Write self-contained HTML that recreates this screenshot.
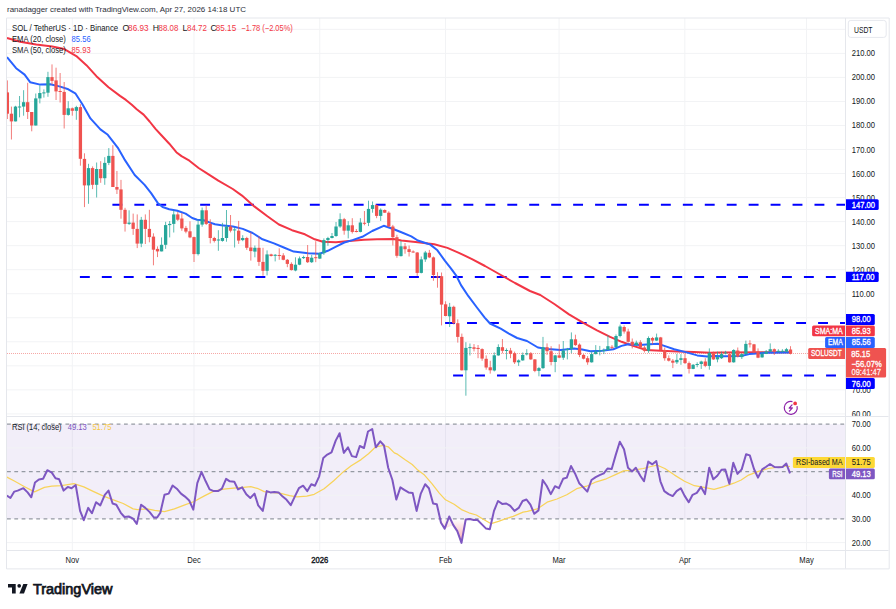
<!DOCTYPE html><html><head><meta charset="utf-8"><title>SOL/USDT chart</title><style>html,body{margin:0;padding:0;background:#fff;width:896px;height:609px;overflow:hidden}svg{position:absolute;left:0;top:0}text{font-family:"Liberation Sans",sans-serif}</style></head><body>
<svg width="896" height="609" viewBox="0 0 896 609">
<defs><clipPath id="mp"><rect x="6.5" y="18" width="839.5" height="398"/></clipPath><clipPath id="pa"><rect x="846" y="18" width="43" height="398"/></clipPath><clipPath id="rp"><rect x="6.5" y="416.9" width="839.5" height="133.5"/></clipPath><linearGradient id="os" x1="0" y1="0" x2="0" y2="1"><stop offset="0" stop-color="#f23645" stop-opacity="0"/><stop offset="1" stop-color="#f23645" stop-opacity="0.45"/></linearGradient></defs>
<text x="7" y="12.1" font-size="7.8" fill="#2a2e39" textLength="239" lengthAdjust="spacingAndGlyphs">ranadagger created with TradingView.com, Apr 27, 2026 14:18 UTC</text>
<line x1="6.5" y1="29.35" x2="846" y2="29.35" stroke="#f2f3f5" stroke-width="1"/>
<line x1="6.5" y1="53.39" x2="846" y2="53.39" stroke="#f2f3f5" stroke-width="1"/>
<line x1="6.5" y1="77.42" x2="846" y2="77.42" stroke="#f2f3f5" stroke-width="1"/>
<line x1="6.5" y1="101.45" x2="846" y2="101.45" stroke="#f2f3f5" stroke-width="1"/>
<line x1="6.5" y1="125.49" x2="846" y2="125.49" stroke="#f2f3f5" stroke-width="1"/>
<line x1="6.5" y1="149.52" x2="846" y2="149.52" stroke="#f2f3f5" stroke-width="1"/>
<line x1="6.5" y1="173.56" x2="846" y2="173.56" stroke="#f2f3f5" stroke-width="1"/>
<line x1="6.5" y1="197.59" x2="846" y2="197.59" stroke="#f2f3f5" stroke-width="1"/>
<line x1="6.5" y1="221.62" x2="846" y2="221.62" stroke="#f2f3f5" stroke-width="1"/>
<line x1="6.5" y1="245.66" x2="846" y2="245.66" stroke="#f2f3f5" stroke-width="1"/>
<line x1="6.5" y1="269.69" x2="846" y2="269.69" stroke="#f2f3f5" stroke-width="1"/>
<line x1="6.5" y1="293.73" x2="846" y2="293.73" stroke="#f2f3f5" stroke-width="1"/>
<line x1="6.5" y1="317.76" x2="846" y2="317.76" stroke="#f2f3f5" stroke-width="1"/>
<line x1="6.5" y1="341.79" x2="846" y2="341.79" stroke="#f2f3f5" stroke-width="1"/>
<line x1="6.5" y1="365.83" x2="846" y2="365.83" stroke="#f2f3f5" stroke-width="1"/>
<line x1="6.5" y1="389.86" x2="846" y2="389.86" stroke="#f2f3f5" stroke-width="1"/>
<line x1="6.5" y1="413.90" x2="846" y2="413.90" stroke="#f2f3f5" stroke-width="1"/>
<line x1="72.30" y1="18" x2="72.30" y2="550.4" stroke="#f2f3f5" stroke-width="1"/>
<line x1="193.99" y1="18" x2="193.99" y2="550.4" stroke="#f2f3f5" stroke-width="1"/>
<line x1="319.74" y1="18" x2="319.74" y2="550.4" stroke="#f2f3f5" stroke-width="1"/>
<line x1="445.49" y1="18" x2="445.49" y2="550.4" stroke="#f2f3f5" stroke-width="1"/>
<line x1="559.07" y1="18" x2="559.07" y2="550.4" stroke="#f2f3f5" stroke-width="1"/>
<line x1="684.82" y1="18" x2="684.82" y2="550.4" stroke="#f2f3f5" stroke-width="1"/>
<line x1="806.51" y1="18" x2="806.51" y2="550.4" stroke="#f2f3f5" stroke-width="1"/>
<rect x="6.5" y="424.20" width="839.5" height="94.72" fill="#7e57c2" fill-opacity="0.1"/>
<line x1="6.5" y1="447.88" x2="846" y2="447.88" stroke="#f2f3f5" stroke-width="1"/>
<line x1="6.5" y1="495.24" x2="846" y2="495.24" stroke="#f2f3f5" stroke-width="1"/>
<line x1="6.5" y1="542.60" x2="846" y2="542.60" stroke="#f2f3f5" stroke-width="1"/>
<line x1="7" y1="424.20" x2="846" y2="424.20" stroke="#959aa3" stroke-width="1.2" stroke-dasharray="3.8 3.51"/>
<line x1="7" y1="471.56" x2="846" y2="471.56" stroke="#959aa3" stroke-width="1.2" stroke-dasharray="3.8 3.51"/>
<line x1="7" y1="518.92" x2="846" y2="518.92" stroke="#959aa3" stroke-width="1.2" stroke-dasharray="3.8 3.51"/>
<line x1="112.4" y1="204.80" x2="846" y2="204.80" stroke="#0000ff" stroke-width="2" stroke-dasharray="9.9 12.04"/>
<line x1="79.9" y1="276.90" x2="846" y2="276.90" stroke="#0000ff" stroke-width="2" stroke-dasharray="9.9 12.04"/>
<line x1="445.1" y1="323.00" x2="846" y2="323.00" stroke="#0000ff" stroke-width="2" stroke-dasharray="9.9 12.04"/>
<line x1="453.1" y1="375.44" x2="846" y2="375.44" stroke="#0000ff" stroke-width="2" stroke-dasharray="9.9 12.04"/>
<line x1="7" y1="353.5" x2="845" y2="353.5" stroke="#ef5350" stroke-width="1" stroke-dasharray="1 1" opacity="0.5"/>
<g clip-path="url(#mp)">
<polyline points="7.0,38.0 20.1,41.7 36.2,44.5 52.2,46.5 64.3,49.1 76.3,56.1 86.4,65.2 96.4,76.2 108.5,87.3 120.0,95.9 125.9,99.9 131.8,104.8 136.7,109.2 143.6,114.6 149.6,121.5 155.5,128.9 161.4,135.3 169.3,143.7 176.3,152.2 181.5,156.1 189.4,160.7 198.6,168.0 207.8,173.9 218.3,180.7 232.8,189.0 242.0,195.6 254.3,206.4 267.4,216.3 278.9,224.5 292.0,230.2 304.9,234.3 314.7,239.3 322.9,241.7 336.0,242.2 349.2,240.9 364.0,239.8 377.1,239.3 393.5,238.9 401.4,240.5 417.8,242.2 434.3,244.3 447.4,247.9 458.9,252.8 472.0,259.1 485.0,266.0 500.0,274.5 515.0,283.0 530.0,291.0 540.3,295.0 554.3,304.0 569.0,314.4 583.8,323.2 597.0,330.3 610.1,336.9 621.6,341.8 633.1,345.9 646.3,350.0 661.0,350.8 677.5,351.6 693.9,352.1 710.3,352.8 720.0,352.5 790.0,352.2" fill="none" stroke="#f23645" stroke-width="2" stroke-linejoin="round"/>
<polyline points="7.0,57.1 16.1,68.2 24.6,74.6 30.1,82.2 40.2,84.6 50.2,84.2 60.3,86.6 68.3,89.3 75.3,93.3 82.4,104.3 90.4,118.4 100.4,129.4 107.8,134.8 117.7,147.6 124.3,159.1 134.7,175.0 144.6,184.9 151.1,193.1 157.7,202.9 162.6,207.0 169.2,209.2 177.4,210.8 185.6,213.6 192.2,218.0 197.1,219.7 203.7,220.2 210.2,222.6 215.0,224.3 221.4,225.3 232.9,226.5 242.8,228.9 252.6,233.0 262.5,239.3 274.0,243.4 283.8,247.5 293.7,251.6 308.1,253.2 319.6,253.7 327.8,250.8 336.0,246.7 344.3,242.5 352.5,240.1 362.3,236.8 372.2,231.0 383.7,225.8 393.2,229.0 401.4,232.3 411.3,236.4 417.8,240.5 427.7,243.8 430.0,244.4 437.4,250.3 444.8,260.7 450.7,268.1 456.6,276.2 461.0,285.1 468.4,296.2 477.3,308.0 484.7,317.6 490.0,323.5 500.7,328.7 508.9,333.6 517.1,338.0 527.0,341.0 537.9,347.5 547.7,348.9 560.8,350.0 574.0,348.4 582.2,349.5 590.4,351.2 601.9,350.8 613.4,349.2 621.6,345.9 628.2,344.3 639.7,345.1 649.6,344.3 657.8,343.8 664.3,345.9 674.2,349.2 685.7,352.1 697.2,355.4 707.0,356.6 715.2,356.0 724.6,356.3 741.0,356.0 749.3,354.1 765.7,352.8 790.3,352.5" fill="none" stroke="#2962ff" stroke-width="2" stroke-linejoin="round"/>
<line x1="7.37" y1="80.4" x2="7.37" y2="119.0" stroke="#ef5350" stroke-width="1" opacity="0.75"/>
<rect x="5.72" y="92.4" width="3.3" height="21.30" fill="#ef5350"/>
<line x1="11.43" y1="106.6" x2="11.43" y2="139.5" stroke="#ef5350" stroke-width="1" opacity="0.75"/>
<rect x="9.78" y="113.7" width="3.3" height="7.70" fill="#ef5350"/>
<line x1="15.49" y1="105.8" x2="15.49" y2="121.4" stroke="#26a69a" stroke-width="1" opacity="0.75"/>
<rect x="13.84" y="106.6" width="3.3" height="14.80" fill="#26a69a"/>
<line x1="19.54" y1="96.0" x2="19.54" y2="117.3" stroke="#26a69a" stroke-width="1" opacity="0.75"/>
<rect x="17.89" y="106.5" width="3.3" height="1.00" fill="#26a69a"/>
<line x1="23.60" y1="90.2" x2="23.60" y2="115.7" stroke="#26a69a" stroke-width="1" opacity="0.75"/>
<rect x="21.95" y="102.2" width="3.3" height="4.40" fill="#26a69a"/>
<line x1="27.66" y1="82.8" x2="27.66" y2="119.0" stroke="#ef5350" stroke-width="1" opacity="0.75"/>
<rect x="26.01" y="102.2" width="3.3" height="9.80" fill="#ef5350"/>
<line x1="31.72" y1="112.0" x2="31.72" y2="131.3" stroke="#ef5350" stroke-width="1" opacity="0.75"/>
<rect x="30.07" y="112.0" width="3.3" height="13.50" fill="#ef5350"/>
<line x1="35.77" y1="93.5" x2="35.77" y2="125.5" stroke="#26a69a" stroke-width="1" opacity="0.75"/>
<rect x="34.12" y="98.4" width="3.3" height="27.10" fill="#26a69a"/>
<line x1="39.83" y1="85.3" x2="39.83" y2="103.4" stroke="#26a69a" stroke-width="1" opacity="0.75"/>
<rect x="38.18" y="93.0" width="3.3" height="5.40" fill="#26a69a"/>
<line x1="43.89" y1="89.4" x2="43.89" y2="97.6" stroke="#26a69a" stroke-width="1" opacity="0.75"/>
<rect x="42.24" y="92.4" width="3.3" height="1.00" fill="#26a69a"/>
<line x1="47.95" y1="71.8" x2="47.95" y2="96.8" stroke="#26a69a" stroke-width="1" opacity="0.75"/>
<rect x="46.30" y="77.1" width="3.3" height="15.60" fill="#26a69a"/>
<line x1="52.00" y1="64.4" x2="52.00" y2="84.5" stroke="#ef5350" stroke-width="1" opacity="0.75"/>
<rect x="50.35" y="77.1" width="3.3" height="3.80" fill="#ef5350"/>
<line x1="56.06" y1="67.7" x2="56.06" y2="100.0" stroke="#ef5350" stroke-width="1" opacity="0.75"/>
<rect x="54.41" y="80.4" width="3.3" height="11.00" fill="#ef5350"/>
<line x1="60.12" y1="73.0" x2="60.12" y2="102.5" stroke="#ef5350" stroke-width="1" opacity="0.75"/>
<rect x="58.47" y="91.0" width="3.3" height="1.00" fill="#ef5350"/>
<line x1="64.18" y1="82.0" x2="64.18" y2="128.5" stroke="#ef5350" stroke-width="1" opacity="0.75"/>
<rect x="62.53" y="91.9" width="3.3" height="23.00" fill="#ef5350"/>
<line x1="68.24" y1="101.2" x2="68.24" y2="115.7" stroke="#26a69a" stroke-width="1" opacity="0.75"/>
<rect x="66.59" y="108.3" width="3.3" height="6.60" fill="#26a69a"/>
<line x1="72.29" y1="107.5" x2="72.29" y2="115.7" stroke="#ef5350" stroke-width="1" opacity="0.75"/>
<rect x="70.64" y="108.3" width="3.3" height="2.50" fill="#ef5350"/>
<line x1="76.35" y1="105.8" x2="76.35" y2="119.8" stroke="#26a69a" stroke-width="1" opacity="0.75"/>
<rect x="74.70" y="107.1" width="3.3" height="3.70" fill="#26a69a"/>
<line x1="80.41" y1="104.2" x2="80.41" y2="165.7" stroke="#ef5350" stroke-width="1" opacity="0.75"/>
<rect x="78.76" y="107.1" width="3.3" height="51.70" fill="#ef5350"/>
<line x1="84.47" y1="153.3" x2="84.47" y2="207.1" stroke="#ef5350" stroke-width="1" opacity="0.75"/>
<rect x="82.82" y="158.9" width="3.3" height="26.50" fill="#ef5350"/>
<line x1="88.52" y1="163.8" x2="88.52" y2="203.8" stroke="#26a69a" stroke-width="1" opacity="0.75"/>
<rect x="86.87" y="168.1" width="3.3" height="17.30" fill="#26a69a"/>
<line x1="92.58" y1="166.4" x2="92.58" y2="189.1" stroke="#ef5350" stroke-width="1" opacity="0.75"/>
<rect x="90.93" y="168.1" width="3.3" height="16.70" fill="#ef5350"/>
<line x1="96.64" y1="162.5" x2="96.64" y2="197.5" stroke="#26a69a" stroke-width="1" opacity="0.75"/>
<rect x="94.99" y="169.0" width="3.3" height="15.80" fill="#26a69a"/>
<line x1="100.70" y1="161.2" x2="100.70" y2="182.8" stroke="#ef5350" stroke-width="1" opacity="0.75"/>
<rect x="99.05" y="169.0" width="3.3" height="9.20" fill="#ef5350"/>
<line x1="104.75" y1="157.2" x2="104.75" y2="184.8" stroke="#26a69a" stroke-width="1" opacity="0.75"/>
<rect x="103.10" y="162.9" width="3.3" height="15.30" fill="#26a69a"/>
<line x1="108.81" y1="148.1" x2="108.81" y2="165.1" stroke="#26a69a" stroke-width="1" opacity="0.75"/>
<rect x="107.16" y="155.9" width="3.3" height="7.00" fill="#26a69a"/>
<line x1="112.87" y1="145.2" x2="112.87" y2="187.0" stroke="#ef5350" stroke-width="1" opacity="0.75"/>
<rect x="111.22" y="155.9" width="3.3" height="31.10" fill="#ef5350"/>
<line x1="116.93" y1="171.0" x2="116.93" y2="194.0" stroke="#ef5350" stroke-width="1" opacity="0.75"/>
<rect x="115.28" y="187.0" width="3.3" height="2.60" fill="#ef5350"/>
<line x1="120.99" y1="179.9" x2="120.99" y2="218.7" stroke="#ef5350" stroke-width="1" opacity="0.75"/>
<rect x="119.34" y="189.4" width="3.3" height="20.40" fill="#ef5350"/>
<line x1="125.04" y1="207.8" x2="125.04" y2="231.6" stroke="#ef5350" stroke-width="1" opacity="0.75"/>
<rect x="123.39" y="209.8" width="3.3" height="14.10" fill="#ef5350"/>
<line x1="129.10" y1="210.3" x2="129.10" y2="225.0" stroke="#26a69a" stroke-width="1" opacity="0.75"/>
<rect x="127.45" y="222.6" width="3.3" height="1.30" fill="#26a69a"/>
<line x1="133.16" y1="213.6" x2="133.16" y2="234.9" stroke="#ef5350" stroke-width="1" opacity="0.75"/>
<rect x="131.51" y="222.6" width="3.3" height="6.30" fill="#ef5350"/>
<line x1="137.22" y1="214.4" x2="137.22" y2="248.1" stroke="#ef5350" stroke-width="1" opacity="0.75"/>
<rect x="135.57" y="228.9" width="3.3" height="14.70" fill="#ef5350"/>
<line x1="141.27" y1="216.9" x2="141.27" y2="247.2" stroke="#26a69a" stroke-width="1" opacity="0.75"/>
<rect x="139.62" y="219.8" width="3.3" height="23.80" fill="#26a69a"/>
<line x1="145.33" y1="214.4" x2="145.33" y2="244.0" stroke="#ef5350" stroke-width="1" opacity="0.75"/>
<rect x="143.68" y="219.8" width="3.3" height="9.10" fill="#ef5350"/>
<line x1="149.39" y1="209.8" x2="149.39" y2="242.3" stroke="#ef5350" stroke-width="1" opacity="0.75"/>
<rect x="147.74" y="228.9" width="3.3" height="8.20" fill="#ef5350"/>
<line x1="153.45" y1="233.3" x2="153.45" y2="265.3" stroke="#ef5350" stroke-width="1" opacity="0.75"/>
<rect x="151.80" y="236.6" width="3.3" height="13.10" fill="#ef5350"/>
<line x1="157.50" y1="246.4" x2="157.50" y2="257.1" stroke="#ef5350" stroke-width="1" opacity="0.75"/>
<rect x="155.85" y="248.9" width="3.3" height="2.50" fill="#ef5350"/>
<line x1="161.56" y1="237.4" x2="161.56" y2="251.4" stroke="#26a69a" stroke-width="1" opacity="0.75"/>
<rect x="159.91" y="244.8" width="3.3" height="6.60" fill="#26a69a"/>
<line x1="165.62" y1="221.8" x2="165.62" y2="248.9" stroke="#26a69a" stroke-width="1" opacity="0.75"/>
<rect x="163.97" y="225.1" width="3.3" height="19.70" fill="#26a69a"/>
<line x1="169.68" y1="221.0" x2="169.68" y2="237.4" stroke="#26a69a" stroke-width="1" opacity="0.75"/>
<rect x="168.03" y="223.9" width="3.3" height="1.20" fill="#26a69a"/>
<line x1="173.74" y1="210.3" x2="173.74" y2="232.5" stroke="#26a69a" stroke-width="1" opacity="0.75"/>
<rect x="172.09" y="214.4" width="3.3" height="9.50" fill="#26a69a"/>
<line x1="177.79" y1="212.0" x2="177.79" y2="221.0" stroke="#ef5350" stroke-width="1" opacity="0.75"/>
<rect x="176.14" y="214.4" width="3.3" height="5.30" fill="#ef5350"/>
<line x1="181.85" y1="213.1" x2="181.85" y2="230.8" stroke="#ef5350" stroke-width="1" opacity="0.75"/>
<rect x="180.20" y="218.5" width="3.3" height="9.90" fill="#ef5350"/>
<line x1="185.91" y1="225.9" x2="185.91" y2="233.3" stroke="#ef5350" stroke-width="1" opacity="0.75"/>
<rect x="184.26" y="227.9" width="3.3" height="3.70" fill="#ef5350"/>
<line x1="189.97" y1="221.3" x2="189.97" y2="238.2" stroke="#ef5350" stroke-width="1" opacity="0.75"/>
<rect x="188.32" y="231.3" width="3.3" height="6.10" fill="#ef5350"/>
<line x1="194.02" y1="236.6" x2="194.02" y2="262.0" stroke="#ef5350" stroke-width="1" opacity="0.75"/>
<rect x="192.37" y="237.1" width="3.3" height="17.00" fill="#ef5350"/>
<line x1="198.08" y1="219.3" x2="198.08" y2="255.5" stroke="#26a69a" stroke-width="1" opacity="0.75"/>
<rect x="196.43" y="224.6" width="3.3" height="29.50" fill="#26a69a"/>
<line x1="202.14" y1="207.5" x2="202.14" y2="226.7" stroke="#26a69a" stroke-width="1" opacity="0.75"/>
<rect x="200.49" y="210.3" width="3.3" height="14.30" fill="#26a69a"/>
<line x1="206.20" y1="205.4" x2="206.20" y2="225.0" stroke="#ef5350" stroke-width="1" opacity="0.75"/>
<rect x="204.55" y="210.3" width="3.3" height="13.60" fill="#ef5350"/>
<line x1="210.25" y1="219.3" x2="210.25" y2="243.4" stroke="#ef5350" stroke-width="1" opacity="0.75"/>
<rect x="208.60" y="223.9" width="3.3" height="14.10" fill="#ef5350"/>
<line x1="214.31" y1="236.8" x2="214.31" y2="242.5" stroke="#ef5350" stroke-width="1" opacity="0.75"/>
<rect x="212.66" y="238.0" width="3.3" height="2.90" fill="#ef5350"/>
<line x1="218.37" y1="230.2" x2="218.37" y2="250.8" stroke="#26a69a" stroke-width="1" opacity="0.75"/>
<rect x="216.72" y="239.5" width="3.3" height="1.00" fill="#26a69a"/>
<line x1="222.43" y1="222.8" x2="222.43" y2="241.7" stroke="#26a69a" stroke-width="1" opacity="0.75"/>
<rect x="220.78" y="238.0" width="3.3" height="2.90" fill="#26a69a"/>
<line x1="226.49" y1="210.0" x2="226.49" y2="241.7" stroke="#26a69a" stroke-width="1" opacity="0.75"/>
<rect x="224.84" y="226.5" width="3.3" height="11.50" fill="#26a69a"/>
<line x1="230.54" y1="215.0" x2="230.54" y2="232.4" stroke="#ef5350" stroke-width="1" opacity="0.75"/>
<rect x="228.89" y="226.5" width="3.3" height="4.20" fill="#ef5350"/>
<line x1="234.60" y1="227.4" x2="234.60" y2="247.5" stroke="#26a69a" stroke-width="1" opacity="0.75"/>
<rect x="232.95" y="229.4" width="3.3" height="1.00" fill="#26a69a"/>
<line x1="238.66" y1="220.9" x2="238.66" y2="243.9" stroke="#ef5350" stroke-width="1" opacity="0.75"/>
<rect x="237.01" y="230.7" width="3.3" height="9.90" fill="#ef5350"/>
<line x1="242.72" y1="235.2" x2="242.72" y2="241.2" stroke="#26a69a" stroke-width="1" opacity="0.75"/>
<rect x="241.07" y="238.0" width="3.3" height="2.10" fill="#26a69a"/>
<line x1="246.77" y1="236.8" x2="246.77" y2="249.9" stroke="#ef5350" stroke-width="1" opacity="0.75"/>
<rect x="245.12" y="238.0" width="3.3" height="9.80" fill="#ef5350"/>
<line x1="250.83" y1="232.4" x2="250.83" y2="260.6" stroke="#ef5350" stroke-width="1" opacity="0.75"/>
<rect x="249.18" y="247.5" width="3.3" height="3.60" fill="#ef5350"/>
<line x1="254.89" y1="245.5" x2="254.89" y2="257.3" stroke="#26a69a" stroke-width="1" opacity="0.75"/>
<rect x="253.24" y="247.8" width="3.3" height="3.80" fill="#26a69a"/>
<line x1="258.95" y1="236.3" x2="258.95" y2="265.9" stroke="#ef5350" stroke-width="1" opacity="0.75"/>
<rect x="257.30" y="247.8" width="3.3" height="14.10" fill="#ef5350"/>
<line x1="263.01" y1="247.8" x2="263.01" y2="275.7" stroke="#ef5350" stroke-width="1" opacity="0.75"/>
<rect x="261.36" y="261.9" width="3.3" height="8.90" fill="#ef5350"/>
<line x1="267.06" y1="250.4" x2="267.06" y2="275.4" stroke="#26a69a" stroke-width="1" opacity="0.75"/>
<rect x="265.41" y="254.4" width="3.3" height="16.40" fill="#26a69a"/>
<line x1="271.12" y1="253.7" x2="271.12" y2="256.5" stroke="#ef5350" stroke-width="1" opacity="0.75"/>
<rect x="269.47" y="254.4" width="3.3" height="1.60" fill="#ef5350"/>
<line x1="275.18" y1="254.0" x2="275.18" y2="261.4" stroke="#26a69a" stroke-width="1" opacity="0.75"/>
<rect x="273.53" y="254.8" width="3.3" height="1.00" fill="#26a69a"/>
<line x1="279.24" y1="248.3" x2="279.24" y2="259.8" stroke="#ef5350" stroke-width="1" opacity="0.75"/>
<rect x="277.59" y="255.0" width="3.3" height="1.00" fill="#ef5350"/>
<line x1="283.29" y1="253.2" x2="283.29" y2="260.3" stroke="#ef5350" stroke-width="1" opacity="0.75"/>
<rect x="281.64" y="255.4" width="3.3" height="4.40" fill="#ef5350"/>
<line x1="287.35" y1="259.0" x2="287.35" y2="267.2" stroke="#ef5350" stroke-width="1" opacity="0.75"/>
<rect x="285.70" y="259.8" width="3.3" height="4.10" fill="#ef5350"/>
<line x1="291.41" y1="262.3" x2="291.41" y2="270.5" stroke="#ef5350" stroke-width="1" opacity="0.75"/>
<rect x="289.76" y="263.9" width="3.3" height="6.20" fill="#ef5350"/>
<line x1="295.47" y1="257.3" x2="295.47" y2="271.3" stroke="#26a69a" stroke-width="1" opacity="0.75"/>
<rect x="293.82" y="264.7" width="3.3" height="5.80" fill="#26a69a"/>
<line x1="299.52" y1="256.5" x2="299.52" y2="265.2" stroke="#26a69a" stroke-width="1" opacity="0.75"/>
<rect x="297.87" y="258.4" width="3.3" height="6.30" fill="#26a69a"/>
<line x1="303.58" y1="255.7" x2="303.58" y2="259.0" stroke="#26a69a" stroke-width="1" opacity="0.75"/>
<rect x="301.93" y="257.0" width="3.3" height="1.10" fill="#26a69a"/>
<line x1="307.64" y1="245.0" x2="307.64" y2="263.0" stroke="#ef5350" stroke-width="1" opacity="0.75"/>
<rect x="305.99" y="257.0" width="3.3" height="5.20" fill="#ef5350"/>
<line x1="311.70" y1="254.9" x2="311.70" y2="263.0" stroke="#26a69a" stroke-width="1" opacity="0.75"/>
<rect x="310.05" y="257.7" width="3.3" height="4.50" fill="#26a69a"/>
<line x1="315.76" y1="241.2" x2="315.76" y2="262.2" stroke="#ef5350" stroke-width="1" opacity="0.75"/>
<rect x="314.11" y="257.2" width="3.3" height="1.00" fill="#ef5350"/>
<line x1="319.81" y1="252.4" x2="319.81" y2="259.0" stroke="#26a69a" stroke-width="1" opacity="0.75"/>
<rect x="318.16" y="253.2" width="3.3" height="5.40" fill="#26a69a"/>
<line x1="323.87" y1="238.4" x2="323.87" y2="254.9" stroke="#26a69a" stroke-width="1" opacity="0.75"/>
<rect x="322.22" y="240.1" width="3.3" height="13.10" fill="#26a69a"/>
<line x1="327.93" y1="236.8" x2="327.93" y2="245.8" stroke="#26a69a" stroke-width="1" opacity="0.75"/>
<rect x="326.28" y="238.0" width="3.3" height="2.10" fill="#26a69a"/>
<line x1="331.99" y1="233.0" x2="331.99" y2="238.4" stroke="#26a69a" stroke-width="1" opacity="0.75"/>
<rect x="330.34" y="236.0" width="3.3" height="2.00" fill="#26a69a"/>
<line x1="336.04" y1="222.0" x2="336.04" y2="236.8" stroke="#26a69a" stroke-width="1" opacity="0.75"/>
<rect x="334.39" y="226.5" width="3.3" height="9.50" fill="#26a69a"/>
<line x1="340.10" y1="213.3" x2="340.10" y2="227.8" stroke="#26a69a" stroke-width="1" opacity="0.75"/>
<rect x="338.45" y="219.2" width="3.3" height="7.30" fill="#26a69a"/>
<line x1="344.16" y1="217.9" x2="344.16" y2="234.7" stroke="#ef5350" stroke-width="1" opacity="0.75"/>
<rect x="342.51" y="219.2" width="3.3" height="11.50" fill="#ef5350"/>
<line x1="348.22" y1="221.2" x2="348.22" y2="238.4" stroke="#26a69a" stroke-width="1" opacity="0.75"/>
<rect x="346.57" y="225.3" width="3.3" height="5.40" fill="#26a69a"/>
<line x1="352.27" y1="218.2" x2="352.27" y2="233.5" stroke="#ef5350" stroke-width="1" opacity="0.75"/>
<rect x="350.62" y="225.3" width="3.3" height="6.60" fill="#ef5350"/>
<line x1="356.33" y1="229.0" x2="356.33" y2="232.4" stroke="#ef5350" stroke-width="1" opacity="0.75"/>
<rect x="354.68" y="231.0" width="3.3" height="1.00" fill="#ef5350"/>
<line x1="360.39" y1="218.2" x2="360.39" y2="232.4" stroke="#26a69a" stroke-width="1" opacity="0.75"/>
<rect x="358.74" y="222.5" width="3.3" height="9.40" fill="#26a69a"/>
<line x1="364.45" y1="211.0" x2="364.45" y2="225.3" stroke="#ef5350" stroke-width="1" opacity="0.75"/>
<rect x="362.80" y="222.8" width="3.3" height="1.00" fill="#ef5350"/>
<line x1="368.51" y1="200.7" x2="368.51" y2="226.1" stroke="#26a69a" stroke-width="1" opacity="0.75"/>
<rect x="366.86" y="208.9" width="3.3" height="13.90" fill="#26a69a"/>
<line x1="372.56" y1="201.5" x2="372.56" y2="212.7" stroke="#26a69a" stroke-width="1" opacity="0.75"/>
<rect x="370.91" y="205.1" width="3.3" height="3.80" fill="#26a69a"/>
<line x1="376.62" y1="204.4" x2="376.62" y2="218.2" stroke="#ef5350" stroke-width="1" opacity="0.75"/>
<rect x="374.97" y="205.1" width="3.3" height="10.80" fill="#ef5350"/>
<line x1="380.68" y1="208.4" x2="380.68" y2="220.9" stroke="#26a69a" stroke-width="1" opacity="0.75"/>
<rect x="379.03" y="209.7" width="3.3" height="6.20" fill="#26a69a"/>
<line x1="384.74" y1="209.4" x2="384.74" y2="213.0" stroke="#ef5350" stroke-width="1" opacity="0.75"/>
<rect x="383.09" y="210.0" width="3.3" height="2.70" fill="#ef5350"/>
<line x1="388.79" y1="211.3" x2="388.79" y2="227.0" stroke="#ef5350" stroke-width="1" opacity="0.75"/>
<rect x="387.14" y="212.7" width="3.3" height="13.80" fill="#ef5350"/>
<line x1="392.85" y1="224.9" x2="392.85" y2="245.5" stroke="#ef5350" stroke-width="1" opacity="0.75"/>
<rect x="391.20" y="226.5" width="3.3" height="10.70" fill="#ef5350"/>
<line x1="396.91" y1="234.8" x2="396.91" y2="257.8" stroke="#ef5350" stroke-width="1" opacity="0.75"/>
<rect x="395.26" y="237.2" width="3.3" height="18.60" fill="#ef5350"/>
<line x1="400.97" y1="241.0" x2="400.97" y2="256.5" stroke="#26a69a" stroke-width="1" opacity="0.75"/>
<rect x="399.32" y="246.3" width="3.3" height="9.80" fill="#26a69a"/>
<line x1="405.02" y1="243.0" x2="405.02" y2="253.7" stroke="#ef5350" stroke-width="1" opacity="0.75"/>
<rect x="403.37" y="246.3" width="3.3" height="2.90" fill="#ef5350"/>
<line x1="409.08" y1="245.5" x2="409.08" y2="256.5" stroke="#ef5350" stroke-width="1" opacity="0.75"/>
<rect x="407.43" y="249.2" width="3.3" height="2.80" fill="#ef5350"/>
<line x1="413.14" y1="250.4" x2="413.14" y2="252.8" stroke="#ef5350" stroke-width="1" opacity="0.75"/>
<rect x="411.49" y="251.5" width="3.3" height="1.00" fill="#ef5350"/>
<line x1="417.20" y1="252.0" x2="417.20" y2="275.8" stroke="#ef5350" stroke-width="1" opacity="0.75"/>
<rect x="415.55" y="252.5" width="3.3" height="20.40" fill="#ef5350"/>
<line x1="421.26" y1="256.5" x2="421.26" y2="273.4" stroke="#26a69a" stroke-width="1" opacity="0.75"/>
<rect x="419.61" y="259.4" width="3.3" height="13.50" fill="#26a69a"/>
<line x1="425.31" y1="250.9" x2="425.31" y2="261.9" stroke="#26a69a" stroke-width="1" opacity="0.75"/>
<rect x="423.66" y="252.5" width="3.3" height="6.90" fill="#26a69a"/>
<line x1="429.37" y1="249.9" x2="429.37" y2="258.1" stroke="#ef5350" stroke-width="1" opacity="0.75"/>
<rect x="427.72" y="252.8" width="3.3" height="4.60" fill="#ef5350"/>
<line x1="433.43" y1="256.5" x2="433.43" y2="280.8" stroke="#ef5350" stroke-width="1" opacity="0.75"/>
<rect x="431.78" y="257.4" width="3.3" height="17.60" fill="#ef5350"/>
<line x1="437.49" y1="272.2" x2="437.49" y2="287.7" stroke="#ef5350" stroke-width="1" opacity="0.75"/>
<rect x="435.84" y="276.4" width="3.3" height="1.00" fill="#ef5350"/>
<line x1="441.54" y1="272.5" x2="441.54" y2="325.4" stroke="#ef5350" stroke-width="1" opacity="0.75"/>
<rect x="439.89" y="276.2" width="3.3" height="28.40" fill="#ef5350"/>
<line x1="445.60" y1="301.3" x2="445.60" y2="316.3" stroke="#ef5350" stroke-width="1" opacity="0.75"/>
<rect x="443.95" y="304.3" width="3.3" height="11.70" fill="#ef5350"/>
<line x1="449.66" y1="302.9" x2="449.66" y2="327.0" stroke="#26a69a" stroke-width="1" opacity="0.75"/>
<rect x="448.01" y="306.8" width="3.3" height="9.50" fill="#26a69a"/>
<line x1="453.72" y1="305.7" x2="453.72" y2="324.5" stroke="#ef5350" stroke-width="1" opacity="0.75"/>
<rect x="452.07" y="306.8" width="3.3" height="16.40" fill="#ef5350"/>
<line x1="457.77" y1="319.3" x2="457.77" y2="342.6" stroke="#ef5350" stroke-width="1" opacity="0.75"/>
<rect x="456.12" y="323.2" width="3.3" height="13.70" fill="#ef5350"/>
<line x1="461.83" y1="333.6" x2="461.83" y2="370.5" stroke="#ef5350" stroke-width="1" opacity="0.75"/>
<rect x="460.18" y="336.9" width="3.3" height="33.40" fill="#ef5350"/>
<line x1="465.89" y1="342.2" x2="465.89" y2="395.7" stroke="#26a69a" stroke-width="1" opacity="0.75"/>
<rect x="464.24" y="347.9" width="3.3" height="22.40" fill="#26a69a"/>
<line x1="469.95" y1="343.5" x2="469.95" y2="355.5" stroke="#26a69a" stroke-width="1" opacity="0.75"/>
<rect x="468.30" y="347.1" width="3.3" height="1.00" fill="#26a69a"/>
<line x1="474.01" y1="344.1" x2="474.01" y2="351.4" stroke="#ef5350" stroke-width="1" opacity="0.75"/>
<rect x="472.36" y="347.3" width="3.3" height="1.50" fill="#ef5350"/>
<line x1="478.06" y1="345.0" x2="478.06" y2="358.2" stroke="#ef5350" stroke-width="1" opacity="0.75"/>
<rect x="476.41" y="347.9" width="3.3" height="1.10" fill="#ef5350"/>
<line x1="482.12" y1="348.3" x2="482.12" y2="360.8" stroke="#ef5350" stroke-width="1" opacity="0.75"/>
<rect x="480.47" y="349.1" width="3.3" height="9.50" fill="#ef5350"/>
<line x1="486.18" y1="355.4" x2="486.18" y2="369.7" stroke="#ef5350" stroke-width="1" opacity="0.75"/>
<rect x="484.53" y="358.8" width="3.3" height="8.70" fill="#ef5350"/>
<line x1="490.24" y1="360.8" x2="490.24" y2="373.6" stroke="#ef5350" stroke-width="1" opacity="0.75"/>
<rect x="488.59" y="367.3" width="3.3" height="3.00" fill="#ef5350"/>
<line x1="494.29" y1="352.4" x2="494.29" y2="371.4" stroke="#26a69a" stroke-width="1" opacity="0.75"/>
<rect x="492.64" y="355.3" width="3.3" height="15.20" fill="#26a69a"/>
<line x1="498.35" y1="344.3" x2="498.35" y2="355.8" stroke="#26a69a" stroke-width="1" opacity="0.75"/>
<rect x="496.70" y="347.0" width="3.3" height="8.40" fill="#26a69a"/>
<line x1="502.41" y1="339.0" x2="502.41" y2="353.3" stroke="#ef5350" stroke-width="1" opacity="0.75"/>
<rect x="500.76" y="347.2" width="3.3" height="3.60" fill="#ef5350"/>
<line x1="506.47" y1="348.4" x2="506.47" y2="359.4" stroke="#26a69a" stroke-width="1" opacity="0.75"/>
<rect x="504.82" y="350.0" width="3.3" height="1.00" fill="#26a69a"/>
<line x1="510.52" y1="347.9" x2="510.52" y2="358.2" stroke="#ef5350" stroke-width="1" opacity="0.75"/>
<rect x="508.87" y="350.5" width="3.3" height="3.30" fill="#ef5350"/>
<line x1="514.58" y1="351.6" x2="514.58" y2="364.0" stroke="#ef5350" stroke-width="1" opacity="0.75"/>
<rect x="512.93" y="353.3" width="3.3" height="9.00" fill="#ef5350"/>
<line x1="518.64" y1="359.4" x2="518.64" y2="365.9" stroke="#26a69a" stroke-width="1" opacity="0.75"/>
<rect x="516.99" y="360.4" width="3.3" height="1.90" fill="#26a69a"/>
<line x1="522.70" y1="352.5" x2="522.70" y2="360.7" stroke="#26a69a" stroke-width="1" opacity="0.75"/>
<rect x="521.05" y="354.9" width="3.3" height="5.50" fill="#26a69a"/>
<line x1="526.76" y1="349.2" x2="526.76" y2="355.4" stroke="#26a69a" stroke-width="1" opacity="0.75"/>
<rect x="525.11" y="353.3" width="3.3" height="1.10" fill="#26a69a"/>
<line x1="530.81" y1="352.1" x2="530.81" y2="359.9" stroke="#ef5350" stroke-width="1" opacity="0.75"/>
<rect x="529.16" y="353.3" width="3.3" height="6.10" fill="#ef5350"/>
<line x1="534.87" y1="359.0" x2="534.87" y2="372.2" stroke="#ef5350" stroke-width="1" opacity="0.75"/>
<rect x="533.22" y="359.4" width="3.3" height="11.50" fill="#ef5350"/>
<line x1="538.93" y1="366.9" x2="538.93" y2="376.3" stroke="#26a69a" stroke-width="1" opacity="0.75"/>
<rect x="537.28" y="368.1" width="3.3" height="2.80" fill="#26a69a"/>
<line x1="542.99" y1="336.9" x2="542.99" y2="368.9" stroke="#26a69a" stroke-width="1" opacity="0.75"/>
<rect x="541.34" y="347.2" width="3.3" height="20.90" fill="#26a69a"/>
<line x1="547.04" y1="343.4" x2="547.04" y2="354.9" stroke="#ef5350" stroke-width="1" opacity="0.75"/>
<rect x="545.39" y="347.2" width="3.3" height="4.00" fill="#ef5350"/>
<line x1="551.10" y1="346.2" x2="551.10" y2="365.3" stroke="#ef5350" stroke-width="1" opacity="0.75"/>
<rect x="549.45" y="351.2" width="3.3" height="10.80" fill="#ef5350"/>
<line x1="555.16" y1="354.9" x2="555.16" y2="372.2" stroke="#26a69a" stroke-width="1" opacity="0.75"/>
<rect x="553.51" y="355.4" width="3.3" height="6.60" fill="#26a69a"/>
<line x1="559.22" y1="344.3" x2="559.22" y2="358.2" stroke="#ef5350" stroke-width="1" opacity="0.75"/>
<rect x="557.57" y="355.4" width="3.3" height="2.30" fill="#ef5350"/>
<line x1="563.27" y1="341.0" x2="563.27" y2="359.9" stroke="#26a69a" stroke-width="1" opacity="0.75"/>
<rect x="561.62" y="350.5" width="3.3" height="7.20" fill="#26a69a"/>
<line x1="567.33" y1="347.9" x2="567.33" y2="359.4" stroke="#26a69a" stroke-width="1" opacity="0.75"/>
<rect x="565.68" y="349.0" width="3.3" height="1.00" fill="#26a69a"/>
<line x1="571.39" y1="332.4" x2="571.39" y2="353.3" stroke="#26a69a" stroke-width="1" opacity="0.75"/>
<rect x="569.74" y="339.3" width="3.3" height="9.60" fill="#26a69a"/>
<line x1="575.45" y1="334.7" x2="575.45" y2="345.9" stroke="#ef5350" stroke-width="1" opacity="0.75"/>
<rect x="573.80" y="339.3" width="3.3" height="5.80" fill="#ef5350"/>
<line x1="579.51" y1="343.4" x2="579.51" y2="357.1" stroke="#ef5350" stroke-width="1" opacity="0.75"/>
<rect x="577.86" y="344.6" width="3.3" height="10.30" fill="#ef5350"/>
<line x1="583.56" y1="354.1" x2="583.56" y2="359.4" stroke="#ef5350" stroke-width="1" opacity="0.75"/>
<rect x="581.91" y="354.9" width="3.3" height="3.80" fill="#ef5350"/>
<line x1="587.62" y1="356.1" x2="587.62" y2="364.8" stroke="#ef5350" stroke-width="1" opacity="0.75"/>
<rect x="585.97" y="358.2" width="3.3" height="4.10" fill="#ef5350"/>
<line x1="591.68" y1="350.8" x2="591.68" y2="362.7" stroke="#26a69a" stroke-width="1" opacity="0.75"/>
<rect x="590.03" y="354.1" width="3.3" height="8.20" fill="#26a69a"/>
<line x1="595.74" y1="345.1" x2="595.74" y2="354.4" stroke="#26a69a" stroke-width="1" opacity="0.75"/>
<rect x="594.09" y="351.6" width="3.3" height="2.50" fill="#26a69a"/>
<line x1="599.79" y1="345.9" x2="599.79" y2="355.4" stroke="#26a69a" stroke-width="1" opacity="0.75"/>
<rect x="598.14" y="350.5" width="3.3" height="1.10" fill="#26a69a"/>
<line x1="603.85" y1="348.4" x2="603.85" y2="354.1" stroke="#26a69a" stroke-width="1" opacity="0.75"/>
<rect x="602.20" y="350.0" width="3.3" height="1.00" fill="#26a69a"/>
<line x1="607.91" y1="335.2" x2="607.91" y2="350.5" stroke="#26a69a" stroke-width="1" opacity="0.75"/>
<rect x="606.26" y="346.2" width="3.3" height="3.80" fill="#26a69a"/>
<line x1="611.97" y1="345.1" x2="611.97" y2="349.2" stroke="#ef5350" stroke-width="1" opacity="0.75"/>
<rect x="610.32" y="346.8" width="3.3" height="1.00" fill="#ef5350"/>
<line x1="616.02" y1="334.4" x2="616.02" y2="347.5" stroke="#26a69a" stroke-width="1" opacity="0.75"/>
<rect x="614.38" y="336.0" width="3.3" height="11.20" fill="#26a69a"/>
<line x1="620.08" y1="324.6" x2="620.08" y2="337.4" stroke="#26a69a" stroke-width="1" opacity="0.75"/>
<rect x="618.43" y="326.5" width="3.3" height="9.50" fill="#26a69a"/>
<line x1="624.14" y1="325.4" x2="624.14" y2="333.6" stroke="#ef5350" stroke-width="1" opacity="0.75"/>
<rect x="622.49" y="327.0" width="3.3" height="4.50" fill="#ef5350"/>
<line x1="628.20" y1="328.7" x2="628.20" y2="342.6" stroke="#ef5350" stroke-width="1" opacity="0.75"/>
<rect x="626.55" y="331.5" width="3.3" height="10.30" fill="#ef5350"/>
<line x1="632.26" y1="338.5" x2="632.26" y2="348.4" stroke="#ef5350" stroke-width="1" opacity="0.75"/>
<rect x="630.61" y="341.8" width="3.3" height="3.30" fill="#ef5350"/>
<line x1="636.31" y1="340.6" x2="636.31" y2="345.9" stroke="#26a69a" stroke-width="1" opacity="0.75"/>
<rect x="634.66" y="342.6" width="3.3" height="2.50" fill="#26a69a"/>
<line x1="640.37" y1="340.2" x2="640.37" y2="348.4" stroke="#ef5350" stroke-width="1" opacity="0.75"/>
<rect x="638.72" y="342.3" width="3.3" height="5.20" fill="#ef5350"/>
<line x1="644.43" y1="345.9" x2="644.43" y2="352.5" stroke="#ef5350" stroke-width="1" opacity="0.75"/>
<rect x="642.78" y="347.5" width="3.3" height="3.30" fill="#ef5350"/>
<line x1="648.49" y1="336.4" x2="648.49" y2="352.8" stroke="#26a69a" stroke-width="1" opacity="0.75"/>
<rect x="646.84" y="338.0" width="3.3" height="12.80" fill="#26a69a"/>
<line x1="652.54" y1="336.9" x2="652.54" y2="344.3" stroke="#ef5350" stroke-width="1" opacity="0.75"/>
<rect x="650.89" y="338.0" width="3.3" height="2.60" fill="#ef5350"/>
<line x1="656.60" y1="333.6" x2="656.60" y2="341.0" stroke="#26a69a" stroke-width="1" opacity="0.75"/>
<rect x="654.95" y="337.4" width="3.3" height="3.20" fill="#26a69a"/>
<line x1="660.66" y1="336.9" x2="660.66" y2="350.8" stroke="#ef5350" stroke-width="1" opacity="0.75"/>
<rect x="659.01" y="337.4" width="3.3" height="12.60" fill="#ef5350"/>
<line x1="664.72" y1="347.5" x2="664.72" y2="360.7" stroke="#ef5350" stroke-width="1" opacity="0.75"/>
<rect x="663.07" y="350.0" width="3.3" height="8.20" fill="#ef5350"/>
<line x1="668.78" y1="355.4" x2="668.78" y2="361.5" stroke="#ef5350" stroke-width="1" opacity="0.75"/>
<rect x="667.13" y="358.2" width="3.3" height="2.50" fill="#ef5350"/>
<line x1="672.83" y1="359.0" x2="672.83" y2="368.1" stroke="#ef5350" stroke-width="1" opacity="0.75"/>
<rect x="671.18" y="360.7" width="3.3" height="2.00" fill="#ef5350"/>
<line x1="676.89" y1="353.8" x2="676.89" y2="364.0" stroke="#26a69a" stroke-width="1" opacity="0.75"/>
<rect x="675.24" y="359.9" width="3.3" height="2.40" fill="#26a69a"/>
<line x1="680.95" y1="354.1" x2="680.95" y2="364.8" stroke="#26a69a" stroke-width="1" opacity="0.75"/>
<rect x="679.30" y="358.2" width="3.3" height="1.70" fill="#26a69a"/>
<line x1="685.01" y1="353.3" x2="685.01" y2="364.0" stroke="#ef5350" stroke-width="1" opacity="0.75"/>
<rect x="683.36" y="358.2" width="3.3" height="4.90" fill="#ef5350"/>
<line x1="689.06" y1="361.5" x2="689.06" y2="373.5" stroke="#ef5350" stroke-width="1" opacity="0.75"/>
<rect x="687.41" y="363.1" width="3.3" height="5.80" fill="#ef5350"/>
<line x1="693.12" y1="364.0" x2="693.12" y2="369.2" stroke="#26a69a" stroke-width="1" opacity="0.75"/>
<rect x="691.47" y="364.8" width="3.3" height="4.10" fill="#26a69a"/>
<line x1="697.18" y1="362.3" x2="697.18" y2="367.2" stroke="#26a69a" stroke-width="1" opacity="0.75"/>
<rect x="695.53" y="364.0" width="3.3" height="1.00" fill="#26a69a"/>
<line x1="701.24" y1="360.7" x2="701.24" y2="368.9" stroke="#26a69a" stroke-width="1" opacity="0.75"/>
<rect x="699.59" y="361.5" width="3.3" height="2.50" fill="#26a69a"/>
<line x1="705.29" y1="358.2" x2="705.29" y2="367.2" stroke="#ef5350" stroke-width="1" opacity="0.75"/>
<rect x="703.64" y="361.5" width="3.3" height="4.40" fill="#ef5350"/>
<line x1="709.35" y1="348.4" x2="709.35" y2="369.7" stroke="#26a69a" stroke-width="1" opacity="0.75"/>
<rect x="707.70" y="352.8" width="3.3" height="13.10" fill="#26a69a"/>
<line x1="713.41" y1="351.6" x2="713.41" y2="359.9" stroke="#ef5350" stroke-width="1" opacity="0.75"/>
<rect x="711.76" y="353.3" width="3.3" height="6.10" fill="#ef5350"/>
<line x1="717.47" y1="351.6" x2="717.47" y2="362.3" stroke="#26a69a" stroke-width="1" opacity="0.75"/>
<rect x="715.82" y="357.1" width="3.3" height="2.30" fill="#26a69a"/>
<line x1="721.53" y1="351.6" x2="721.53" y2="359.0" stroke="#26a69a" stroke-width="1" opacity="0.75"/>
<rect x="719.88" y="354.1" width="3.3" height="4.10" fill="#26a69a"/>
<line x1="725.58" y1="350.8" x2="725.58" y2="354.4" stroke="#26a69a" stroke-width="1" opacity="0.75"/>
<rect x="723.93" y="352.5" width="3.3" height="1.00" fill="#26a69a"/>
<line x1="729.64" y1="353.3" x2="729.64" y2="362.7" stroke="#ef5350" stroke-width="1" opacity="0.75"/>
<rect x="727.99" y="354.1" width="3.3" height="8.20" fill="#ef5350"/>
<line x1="733.70" y1="349.2" x2="733.70" y2="362.7" stroke="#26a69a" stroke-width="1" opacity="0.75"/>
<rect x="732.05" y="350.0" width="3.3" height="12.30" fill="#26a69a"/>
<line x1="737.76" y1="347.5" x2="737.76" y2="357.4" stroke="#ef5350" stroke-width="1" opacity="0.75"/>
<rect x="736.11" y="350.5" width="3.3" height="6.10" fill="#ef5350"/>
<line x1="741.81" y1="353.3" x2="741.81" y2="359.0" stroke="#26a69a" stroke-width="1" opacity="0.75"/>
<rect x="740.16" y="354.1" width="3.3" height="3.00" fill="#26a69a"/>
<line x1="745.87" y1="340.6" x2="745.87" y2="354.9" stroke="#26a69a" stroke-width="1" opacity="0.75"/>
<rect x="744.22" y="343.9" width="3.3" height="10.20" fill="#26a69a"/>
<line x1="749.93" y1="340.2" x2="749.93" y2="347.5" stroke="#ef5350" stroke-width="1" opacity="0.75"/>
<rect x="748.28" y="343.4" width="3.3" height="1.00" fill="#ef5350"/>
<line x1="753.99" y1="343.9" x2="753.99" y2="353.3" stroke="#ef5350" stroke-width="1" opacity="0.75"/>
<rect x="752.34" y="344.3" width="3.3" height="8.20" fill="#ef5350"/>
<line x1="758.04" y1="348.4" x2="758.04" y2="358.2" stroke="#ef5350" stroke-width="1" opacity="0.75"/>
<rect x="756.39" y="351.6" width="3.3" height="6.10" fill="#ef5350"/>
<line x1="762.10" y1="351.6" x2="762.10" y2="357.7" stroke="#26a69a" stroke-width="1" opacity="0.75"/>
<rect x="760.45" y="353.8" width="3.3" height="3.60" fill="#26a69a"/>
<line x1="766.16" y1="350.0" x2="766.16" y2="354.1" stroke="#26a69a" stroke-width="1" opacity="0.75"/>
<rect x="764.51" y="351.6" width="3.3" height="2.20" fill="#26a69a"/>
<line x1="770.22" y1="343.4" x2="770.22" y2="352.1" stroke="#26a69a" stroke-width="1" opacity="0.75"/>
<rect x="768.57" y="349.2" width="3.3" height="2.40" fill="#26a69a"/>
<line x1="774.28" y1="348.4" x2="774.28" y2="354.9" stroke="#ef5350" stroke-width="1" opacity="0.75"/>
<rect x="772.63" y="349.2" width="3.3" height="2.40" fill="#ef5350"/>
<line x1="778.33" y1="349.2" x2="778.33" y2="352.5" stroke="#26a69a" stroke-width="1" opacity="0.75"/>
<rect x="776.68" y="350.8" width="3.3" height="1.00" fill="#26a69a"/>
<line x1="782.39" y1="349.2" x2="782.39" y2="352.5" stroke="#26a69a" stroke-width="1" opacity="0.75"/>
<rect x="780.74" y="350.8" width="3.3" height="1.00" fill="#26a69a"/>
<line x1="786.45" y1="347.9" x2="786.45" y2="352.5" stroke="#26a69a" stroke-width="1" opacity="0.75"/>
<rect x="784.80" y="349.2" width="3.3" height="2.40" fill="#26a69a"/>
<line x1="790.51" y1="346.2" x2="790.51" y2="354.4" stroke="#ef5350" stroke-width="1" opacity="0.75"/>
<rect x="788.86" y="349.5" width="3.3" height="4.30" fill="#ef5350"/>
</g>
<g clip-path="url(#rp)">
<polygon points="440,518.9 441.0,522.7 444.7,528.6 453.3,525.1 457.3,531.1 461.5,542.9 465.7,519.5 466.5,518.9" fill="url(#os)"/>
<polyline points="6.9,477.1 14.8,481.3 24.6,486.7 34.5,491.9 44.4,487.4 51.8,486.2 61.6,485.7 73.9,483.7 83.8,486.9 93.7,491.6 103.5,496.1 113.4,499.8 123.2,503.5 133.1,508.9 137.4,509.6 147.3,508.9 154.6,510.4 164.5,511.6 174.4,508.9 184.2,505.2 194.1,501.5 203.9,496.1 213.8,491.1 223.7,489.2 233.5,488.2 243.4,487.4 250.8,486.7 258.2,488.7 264.3,491.6 269.9,492.4 279.7,493.1 289.6,495.6 297.0,496.8 306.8,496.1 314.2,494.3 324.1,488.7 334.0,480.5 343.8,471.4 351.2,465.7 361.1,459.6 368.5,453.7 375.8,446.8 383.2,445.5 388.2,446.8 394.3,452.9 397.4,454.2 404.8,459.6 412.2,464.5 417.1,469.4 424.5,475.1 431.9,483.7 439.3,493.1 445.5,499.8 454.1,504.2 461.5,509.6 468.9,512.8 476.3,515.0 483.7,519.5 491.1,523.7 498.5,521.4 505.8,518.7 513.2,516.3 523.1,512.1 527.4,511.3 537.3,508.9 547.1,502.2 557.0,499.0 566.8,494.8 576.7,488.7 586.6,486.2 596.4,481.8 606.3,478.8 616.1,474.4 623.5,470.9 633.4,470.2 643.2,468.5 653.1,466.0 657.4,465.2 664.8,468.5 674.6,475.1 684.5,481.3 694.4,485.7 704.2,487.4 714.1,489.4 723.9,486.7 733.8,483.2 741.2,480.0 748.6,475.1 758.5,471.4 768.3,468.5 778.2,467.2 785.6,466.0 790.0,466.5" fill="none" stroke="#f8d35a" stroke-width="1.25" stroke-linejoin="round"/>
<polyline points="6.9,495.6 10.4,498.0 14.3,491.6 17.7,490.6 23.4,488.2 27.6,492.4 31.3,497.3 35.0,482.5 38.9,479.5 43.1,478.8 47.3,470.2 51.8,472.6 55.5,478.3 59.2,479.3 63.6,490.6 67.8,486.9 71.5,488.2 75.7,485.0 80.1,510.9 83.8,520.2 88.2,507.9 91.9,513.3 96.1,502.2 100.3,505.4 104.8,494.8 108.5,490.6 112.6,503.5 116.3,504.7 120.8,512.8 124.5,517.0 128.7,516.5 133.1,518.7 136.8,523.9 141.1,504.7 145.3,507.9 149.7,512.1 153.9,517.5 157.1,517.5 160.3,512.8 164.5,494.8 168.7,493.6 172.6,485.5 176.8,488.7 181.0,493.6 185.0,496.6 189.2,500.5 193.3,509.6 197.3,483.2 201.5,471.9 205.7,481.3 209.6,489.4 213.8,491.1 218.0,491.1 221.9,488.7 226.1,478.8 229.8,481.3 234.3,481.8 238.0,489.4 242.2,487.4 246.3,494.3 250.3,498.0 254.5,493.6 258.2,505.4 262.8,510.9 266.7,491.1 270.4,492.4 274.3,491.9 278.5,492.4 282.7,496.6 286.6,499.8 290.8,505.2 295.0,496.1 298.9,488.2 303.1,485.7 307.3,491.1 311.3,484.2 315.0,485.7 319.2,476.3 323.3,457.9 327.3,454.6 331.5,452.4 335.7,440.6 339.6,433.2 343.8,452.9 348.0,447.3 351.9,456.1 356.1,457.1 359.8,446.0 364.0,448.0 368.0,431.5 372.2,429.0 375.8,447.3 380.3,441.3 384.0,445.5 388.2,467.7 392.4,480.0 396.3,499.6 400.4,487.4 404.3,489.9 408.5,492.4 412.7,493.1 416.6,510.9 420.8,493.6 425.2,484.2 428.9,488.2 433.1,503.5 436.8,504.2 441.0,522.7 444.7,528.6 449.2,516.5 453.3,525.1 457.3,531.1 461.5,542.9 465.7,519.5 469.6,519.0 473.8,520.0 477.5,520.0 481.9,524.4 486.1,528.6 489.8,529.3 494.0,510.9 498.0,501.0 502.2,503.9 506.3,503.5 510.3,505.9 514.5,510.9 518.7,507.9 522.6,501.0 526.5,499.5 530.4,504.7 534.3,513.8 538.5,510.4 542.7,480.0 546.6,485.7 550.8,494.1 555.0,486.2 558.9,488.2 563.1,478.8 566.8,477.6 571.0,466.0 575.0,473.4 579.2,483.2 583.3,487.4 587.3,491.6 591.5,480.0 595.7,477.1 599.6,475.1 603.8,473.4 607.5,468.5 611.7,469.0 615.6,455.4 619.8,441.8 624.0,449.2 628.0,467.7 632.2,471.4 635.8,467.7 640.3,475.8 644.0,481.3 648.2,461.6 652.4,464.3 656.3,461.1 660.4,481.3 664.3,491.1 668.5,494.1 672.7,496.1 676.6,491.1 680.8,488.2 684.5,495.6 688.7,502.2 692.6,494.8 696.8,492.9 701.0,486.9 705.0,494.1 709.2,467.7 713.3,479.3 717.3,475.8 721.5,469.7 725.2,469.4 729.4,483.7 733.3,462.8 737.5,473.9 741.7,469.4 746.1,454.2 749.8,455.4 754.0,469.0 758.0,477.6 762.2,469.4 765.8,467.0 770.0,464.0 774.5,467.0 778.7,467.2 782.6,467.0 786.3,463.5 790.0,473.4" fill="none" stroke="#7e57c2" stroke-width="2" stroke-linejoin="round"/>
</g>
<path d="M6.5 18 V568.9 H889.2 V18 Z" fill="none" stroke="#e5e7ec" stroke-width="1"/>
<line x1="845.5" y1="18" x2="845.5" y2="568.5" stroke="#e5e7ec" stroke-width="1"/>
<line x1="6.5" y1="416.5" x2="888.5" y2="416.5" stroke="#e5e7ec" stroke-width="1"/>
<line x1="6.5" y1="550.5" x2="888.5" y2="550.5" stroke="#e5e7ec" stroke-width="1"/>
<text x="12" y="30.8" font-size="8.7" fill="#131722" textLength="106.2" lengthAdjust="spacingAndGlyphs">SOL / TetherUS · 1D · Binance</text>
<text x="122.6" y="30.8" font-size="8.7" fill="#131722">O</text>
<text x="128.1" y="30.8" font-size="8.7" fill="#f23645" textLength="20.5" lengthAdjust="spacingAndGlyphs">86.93</text>
<text x="152.8" y="30.8" font-size="8.7" fill="#131722">H</text>
<text x="158.6" y="30.8" font-size="8.7" fill="#f23645" textLength="19.7" lengthAdjust="spacingAndGlyphs">88.08</text>
<text x="182.4" y="30.8" font-size="8.7" fill="#131722">L</text>
<text x="187" y="30.8" font-size="8.7" fill="#f23645" textLength="19.9" lengthAdjust="spacingAndGlyphs">84.72</text>
<text x="210.4" y="30.8" font-size="8.7" fill="#131722">C</text>
<text x="215.8" y="30.8" font-size="8.7" fill="#f23645" textLength="20.4" lengthAdjust="spacingAndGlyphs">85.15</text>
<text x="241.3" y="30.8" font-size="8.7" fill="#f23645" textLength="51.5" lengthAdjust="spacingAndGlyphs">−1.78 (−2.05%)</text>
<text x="12" y="42.2" font-size="8.7" fill="#131722" textLength="53.9" lengthAdjust="spacingAndGlyphs">EMA (20, close)</text><text x="71.60" y="42.20" font-size="8.7" fill="#2962ff" textLength="19.12" lengthAdjust="spacingAndGlyphs">85.56</text>
<text x="12" y="53.3" font-size="8.7" fill="#131722" textLength="53.9" lengthAdjust="spacingAndGlyphs">SMA (50, close)</text><text x="71.60" y="53.30" font-size="8.7" fill="#f23645" textLength="19.12" lengthAdjust="spacingAndGlyphs">85.93</text>
<text x="12" y="430.3" font-size="8.7" fill="#131722" textLength="49.6" lengthAdjust="spacingAndGlyphs">RSI (14, close)</text><text x="67.80" y="430.30" font-size="8.7" fill="#7e57c2" textLength="19.02" lengthAdjust="spacingAndGlyphs">49.13</text><text x="92.40" y="430.30" font-size="8.7" fill="#f7c948" textLength="19.02" lengthAdjust="spacingAndGlyphs">51.75</text>
<g clip-path="url(#pa)">
<text x="851.70" y="56.39" font-size="8.6" fill="#131722" textLength="23.31" lengthAdjust="spacingAndGlyphs">210.00</text>
<text x="851.70" y="80.42" font-size="8.6" fill="#131722" textLength="23.31" lengthAdjust="spacingAndGlyphs">200.00</text>
<text x="851.70" y="104.45" font-size="8.6" fill="#131722" textLength="23.31" lengthAdjust="spacingAndGlyphs">190.00</text>
<text x="851.70" y="128.49" font-size="8.6" fill="#131722" textLength="23.31" lengthAdjust="spacingAndGlyphs">180.00</text>
<text x="851.70" y="152.52" font-size="8.6" fill="#131722" textLength="23.31" lengthAdjust="spacingAndGlyphs">170.00</text>
<text x="851.70" y="176.56" font-size="8.6" fill="#131722" textLength="23.31" lengthAdjust="spacingAndGlyphs">160.00</text>
<text x="851.70" y="200.59" font-size="8.6" fill="#131722" textLength="23.31" lengthAdjust="spacingAndGlyphs">150.00</text>
<text x="851.70" y="224.62" font-size="8.6" fill="#131722" textLength="23.31" lengthAdjust="spacingAndGlyphs">140.00</text>
<text x="851.70" y="248.66" font-size="8.6" fill="#131722" textLength="23.31" lengthAdjust="spacingAndGlyphs">130.00</text>
<text x="851.70" y="272.69" font-size="8.6" fill="#131722" textLength="23.31" lengthAdjust="spacingAndGlyphs">120.00</text>
<text x="851.70" y="296.73" font-size="8.6" fill="#131722" textLength="22.74" lengthAdjust="spacingAndGlyphs">110.00</text>
<text x="851.70" y="392.86" font-size="8.6" fill="#131722" textLength="19.07" lengthAdjust="spacingAndGlyphs">70.00</text>
<text x="851.70" y="416.90" font-size="8.6" fill="#131722" textLength="19.07" lengthAdjust="spacingAndGlyphs">60.00</text>
</g>
<rect x="848.3" y="20.4" width="37.9" height="17" rx="2.5" fill="#fff" stroke="#e6e8ee" stroke-width="1"/>
<text x="854" y="33.0" font-size="9" fill="#131722" textLength="18.5" lengthAdjust="spacingAndGlyphs">USDT</text>
<path d="M846 199.2 H877.2 Q878.7 199.2 878.7 200.7 V208.6 Q878.7 210.1 877.2 210.1 H846 Z" fill="#0000ff"/>
<text x="851.70" y="207.65" font-size="8.6" fill="#fff" textLength="23.31" lengthAdjust="spacingAndGlyphs" stroke="#fff" stroke-width="0.3">147.00</text>
<path d="M846 271.7 H877.2 Q878.7 271.7 878.7 273.2 V280.5 Q878.7 282.0 877.2 282.0 H846 Z" fill="#0000ff"/>
<text x="851.70" y="279.85" font-size="8.6" fill="#fff" textLength="22.74" lengthAdjust="spacingAndGlyphs" stroke="#fff" stroke-width="0.3">117.00</text>
<path d="M846 314.0 H873.3 Q874.8 314.0 874.8 315.5 V323.4 Q874.8 324.9 873.3 324.9 H846 Z" fill="#0000ff"/>
<text x="851.70" y="322.45" font-size="8.6" fill="#fff" textLength="19.07" lengthAdjust="spacingAndGlyphs" stroke="#fff" stroke-width="0.3">98.00</text>
<path d="M846 378.1 H873.3 Q874.8 378.1 874.8 379.6 V387.4 Q874.8 388.9 873.3 388.9 H846 Z" fill="#0000ff"/>
<text x="851.70" y="386.50" font-size="8.6" fill="#fff" textLength="19.07" lengthAdjust="spacingAndGlyphs" stroke="#fff" stroke-width="0.3">76.00</text>
<path d="M845 325.6 H813.6 Q812.1 325.6 812.1 327.1 V334.8 Q812.1 336.3 813.6 336.3 H845 Z" fill="#f23645"/>
<text x="815.1" y="333.85" font-size="8.5" fill="#fff" textLength="27.6" lengthAdjust="spacingAndGlyphs" stroke="#fff" stroke-width="0.3">SMA:MA</text>
<path d="M846 325.6 H873.3 Q874.8 325.6 874.8 327.1 V334.8 Q874.8 336.3 873.3 336.3 H846 Z" fill="#f23645"/>
<text x="851.70" y="333.95" font-size="8.6" fill="#fff" textLength="19.07" lengthAdjust="spacingAndGlyphs" stroke="#fff" stroke-width="0.3">85.93</text>
<path d="M845 336.9 H826.6 Q825.1 336.9 825.1 338.4 V346.5 Q825.1 348 826.6 348 H845 Z" fill="#2962ff"/>
<text x="828.1" y="345.35" font-size="8.5" fill="#fff" textLength="14.6" lengthAdjust="spacingAndGlyphs" stroke="#fff" stroke-width="0.3">EMA</text>
<path d="M846 336.9 H873.3 Q874.8 336.9 874.8 338.4 V346.5 Q874.8 348 873.3 348 H846 Z" fill="#2962ff"/>
<text x="851.70" y="345.45" font-size="8.6" fill="#fff" textLength="19.07" lengthAdjust="spacingAndGlyphs" stroke="#fff" stroke-width="0.3">85.56</text>
<path d="M845 348 H809.7 Q808.2 348 808.2 349.5 V357.4 Q808.2 358.9 809.7 358.9 H845 Z" fill="#ef5350"/>
<text x="811" y="356.35" font-size="8.5" fill="#fff" textLength="30.7" lengthAdjust="spacingAndGlyphs" stroke="#fff" stroke-width="0.3">SOLUSDT</text>
<path d="M846 348 H884.6 Q886.1 348 886.1 349.5 V376.1 Q886.1 377.6 884.6 377.6 H846 Z" fill="#ef5350"/>
<text x="851.20" y="356.80" font-size="8.6" fill="#fff" textLength="19.07" lengthAdjust="spacingAndGlyphs" stroke="#fff" stroke-width="0.3">85.15</text>
<text x="851.40" y="366.60" font-size="8.6" fill="#fff" textLength="30.29" lengthAdjust="spacingAndGlyphs" stroke="#fff" stroke-width="0.3">−56.07%</text>
<text x="851.40" y="375.30" font-size="8.6" fill="#fff" textLength="29.66" lengthAdjust="spacingAndGlyphs" fill-opacity="0.85" stroke="#fff" stroke-opacity="0.85" stroke-width="0.3">09:41:47</text>
<text x="851.70" y="427.20" font-size="8.6" fill="#131722" textLength="19.07" lengthAdjust="spacingAndGlyphs">70.00</text>
<text x="851.70" y="450.88" font-size="8.6" fill="#131722" textLength="19.07" lengthAdjust="spacingAndGlyphs">60.00</text>
<text x="851.70" y="498.24" font-size="8.6" fill="#131722" textLength="19.07" lengthAdjust="spacingAndGlyphs">40.00</text>
<text x="851.70" y="521.92" font-size="8.6" fill="#131722" textLength="19.07" lengthAdjust="spacingAndGlyphs">30.00</text>
<text x="851.70" y="545.60" font-size="8.6" fill="#131722" textLength="19.07" lengthAdjust="spacingAndGlyphs">20.00</text>
<path d="M845 456.9 H794.4 Q792.9 456.9 792.9 458.4 V466.5 Q792.9 468 794.4 468 H845 Z" fill="#fdd835"/>
<text x="796" y="465.35" font-size="8.5" fill="#131722" textLength="46.6" lengthAdjust="spacingAndGlyphs">RSI-based MA</text>
<path d="M846 456.9 H873.3 Q874.8 456.9 874.8 458.4 V466.5 Q874.8 468 873.3 468 H846 Z" fill="#fdd835"/>
<text x="851.70" y="465.45" font-size="8.6" fill="#131722" textLength="19.07" lengthAdjust="spacingAndGlyphs">51.75</text>
<path d="M845 468.5 H830.4 Q828.9 468.5 828.9 470.0 V477.8 Q828.9 479.3 830.4 479.3 H845 Z" fill="#7e57c2"/>
<text x="832.2" y="476.80" font-size="8.5" fill="#fff" textLength="10.4" lengthAdjust="spacingAndGlyphs" stroke="#fff" stroke-width="0.3">RSI</text>
<path d="M846 468.5 H873.3 Q874.8 468.5 874.8 470.0 V477.8 Q874.8 479.3 873.3 479.3 H846 Z" fill="#7e57c2"/>
<text x="851.70" y="476.90" font-size="8.6" fill="#fff" textLength="19.07" lengthAdjust="spacingAndGlyphs" stroke="#fff" stroke-width="0.3">49.13</text>
<text x="72.30" y="562.60" font-size="8.6" fill="#131722" textLength="13.55" lengthAdjust="spacingAndGlyphs" text-anchor="middle">Nov</text>
<text x="193.99" y="562.60" font-size="8.6" fill="#131722" textLength="13.55" lengthAdjust="spacingAndGlyphs" text-anchor="middle">Dec</text>
<text x="319.74" y="562.60" font-size="8.6" fill="#131722" textLength="16.95" lengthAdjust="spacingAndGlyphs" text-anchor="middle" stroke="#131722" stroke-width="0.4">2026</text>
<text x="445.49" y="562.60" font-size="8.6" fill="#131722" textLength="13.13" lengthAdjust="spacingAndGlyphs" text-anchor="middle">Feb</text>
<text x="559.07" y="562.60" font-size="8.6" fill="#131722" textLength="13.12" lengthAdjust="spacingAndGlyphs" text-anchor="middle">Mar</text>
<text x="684.82" y="562.60" font-size="8.6" fill="#131722" textLength="11.86" lengthAdjust="spacingAndGlyphs" text-anchor="middle">Apr</text>
<text x="806.51" y="562.60" font-size="8.6" fill="#131722" textLength="14.40" lengthAdjust="spacingAndGlyphs" text-anchor="middle">May</text>
<g transform="translate(790.75,407.85)"><path d="M 1.7 -6.3 A 6.5 6.5 0 1 0 6.3 -1.7" fill="none" stroke="#8e24aa" stroke-width="1.2"/><path d="M 1.3 -2.9 L -1.6 0.3 L 1.6 0.1 L -1.3 3.3" fill="none" stroke="#8e24aa" stroke-width="1.25" stroke-linejoin="round" stroke-linecap="round"/><circle cx="4.4" cy="-4.45" r="1.85" fill="#f23645"/></g>
<g fill="#131722"><path d="M8 584 H15.7 V593.6 H12 V587.6 H8 Z"/><circle cx="19.2" cy="585.8" r="1.85"/><path d="M23.3 584 H27.6 L24 593.6 H19.4 Z"/></g>
<text x="32.9" y="593.7" font-size="14" fill="#131722" stroke="#131722" stroke-width="0.75" textLength="79.6" lengthAdjust="spacingAndGlyphs">TradingView</text>
</svg></body></html>
